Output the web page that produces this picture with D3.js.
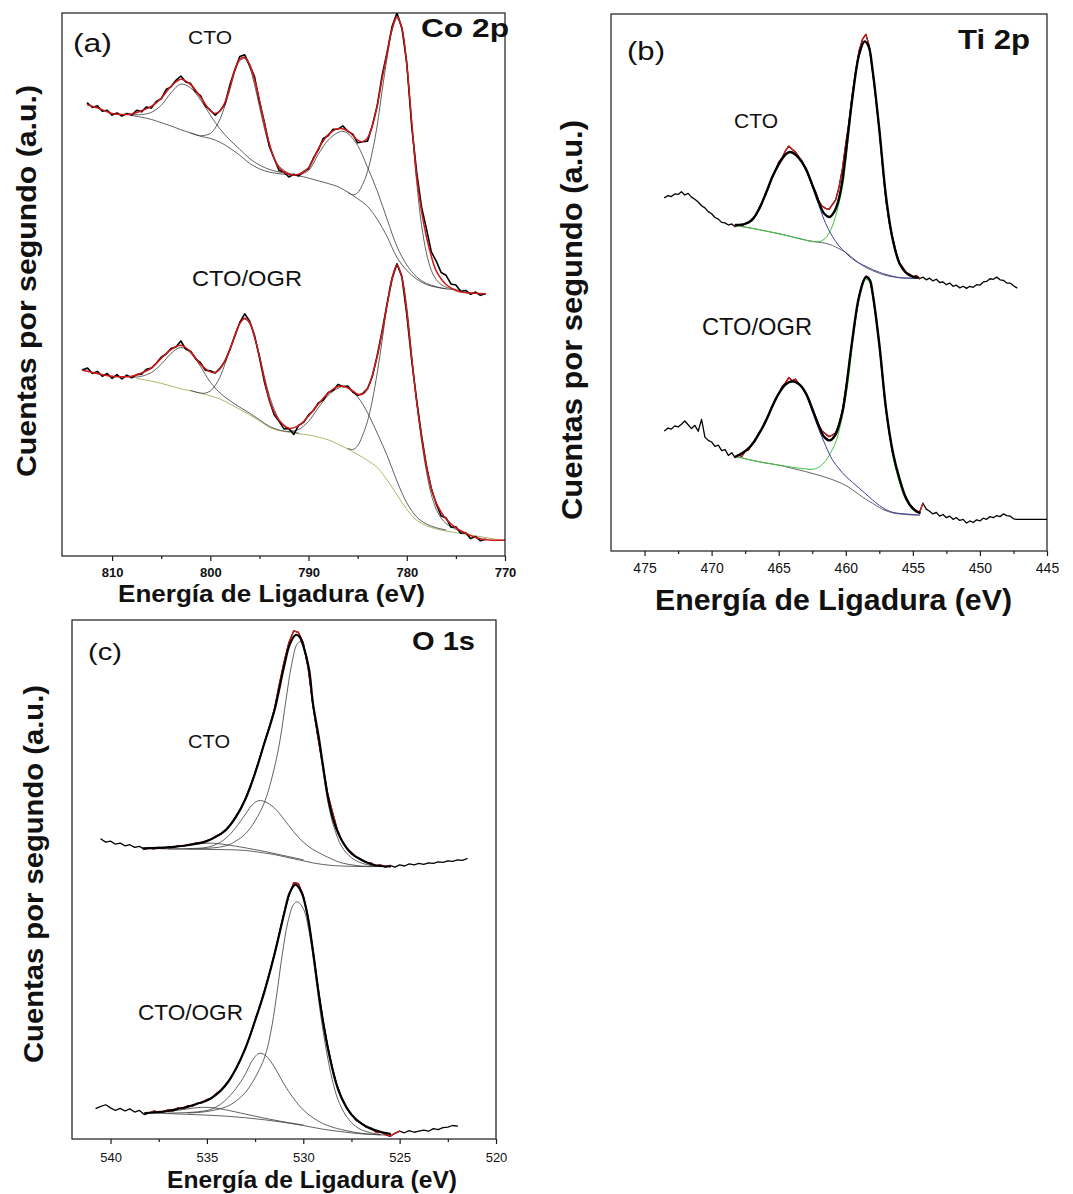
<!DOCTYPE html>
<html>
<head>
<meta charset="utf-8">
<script src="https://cdn.jsdelivr.net/npm/d3@7"></script>
<style>
  html, body { margin: 0; padding: 0; background: #fff; }
  svg { display: block; }
  text { font-family: "Liberation Sans", Arial, Helvetica, sans-serif; fill: #111; }
</style>
</head>
<body>
<svg id="fig" width="1073" height="1194"></svg>
<script>
// ---------------- Co 2p (panel a) ----------------
const co2pTicks = [810, 800, 790, 780, 770];
const co2pMinorTicks = [805, 795, 785, 775];

// measured spectra on a regular energy grid (start, step in eV)
const co2pCtoStart = 812.5, co2pCtoStep = 0.5;
const co2pCtoRaw = [
  83.4, 82.6, 82.9, 81.9,  82.1, 81.2, 81.6, 81.0,
  81.5, 81.2, 82.1, 81.8,  82.7, 82.5, 83.7, 84.2,
  85.9, 86.4, 87.6, 88.4,  87.3, 87.0, 85.5, 84.8,
  82.9, 82.1, 81.2, 82.0,  83.3, 86.8, 89.6, 92.0,
  92.3, 90.4, 88.3, 83.7,  79.9, 75.5, 73.2, 71.0,
  70.7, 69.8, 70.3, 70.0,  70.8, 71.3, 73.3, 74.8,
  76.9, 77.4, 78.6, 78.6,  79.2, 78.2, 77.7, 76.1,
  76.3, 76.4, 79.3, 83.0,  88.6, 92.8, 97.5, 100.0,
  97.3, 90.8, 79.2, 70.8,  64.3, 60.3, 56.0, 54.3,
  52.2, 51.7, 50.1, 49.9,  48.7, 48.9, 48.2, 48.6,
  48.0, 48.3
];
const co2pOgrStart = 813.0, co2pOgrStep = 0.5;
const co2pOgrRaw = [
  34.3, 34.6, 33.6, 34.0,  33.1, 33.6, 32.7, 33.4,
  32.6, 33.3, 32.8, 33.4,  33.5, 34.4, 34.6, 35.5,
  36.6, 37.2, 38.2, 38.5,  39.6, 38.1, 37.7, 36.3,
  35.6, 34.2, 34.1, 33.7,  34.6, 35.9, 38.1, 40.5,
  43.0, 44.6, 43.3, 40.6,  36.6, 32.1, 28.7, 26.0,
  24.8, 23.4, 23.5, 22.4,  24.1, 24.6, 26.0, 26.8,
  28.2, 28.7, 30.1, 30.5,  31.6, 31.2, 31.3, 30.2,
  29.6, 29.9, 30.8, 33.1,  37.0, 41.5, 46.5, 51.0,
  53.8, 51.5, 44.5, 36.0,  28.8, 22.2, 16.6, 12.4,
  9.6, 7.4, 7.0, 5.3,      5.4, 4.2, 4.3, 3.2,
  3.6, 2.8, 3.1
];
// fitted envelopes, backgrounds and components: [energy, counts]
const co2pCtoFit = [[812.5,83.1],[812,82.8],[811,82.2],[810,81.5],[809,81.3],[808,81.4],[807,82.0],[806,82.8],[805,84.3],[804,86.5],[803,87.8],[802,86.8],[801,84.5],[800,82.0],[799.5,81.5],[799,82.0],[798.5,83.6],[798,86.3],[797.5,89.5],[797,91.5],[796.5,91.8],[796,90.5],[795.5,87.7],[795,84.0],[794.5,79.7],[794,76.0],[793.5,73.2],[793,71.5],[792,70.3],[791,70.3],[790,71.5],[789.5,73.1],[789,75.0],[788,77.6],[787,78.7],[786,78.3],[785,76.6],[784.5,76.3],[784,77.0],[783.5,79.3],[783,83.0],[782.5,88.0],[782,92.5],[781.5,97.0],[781,99.3],[780.5,97.2],[780,90.5],[779.5,80.0],[779,70.0],[778.5,63.5],[778,58.8],[777.5,55.2],[777,52.5],[776,50.0],[775,48.9],[774,48.5],[773,48.4],[772,48.3]];
const co2pCtoBg = [[808.2,81.2],[807,80.8],[806,80.4],[805,79.8],[804,79.2],[803,78.5],[802,77.9],[801,77.3],[800,76.9],[799,76.2],[798,75.1],[797,73.8],[796,72.3],[795,71.3],[794,70.7],[793,70.4],[792,70.2],[791,70.0],[790,69.6],[789,69.1],[788,68.6],[787,68.0],[786,67.0],[785,65.8],[784,64.4],[783,62.0],[782,58.8],[781,55.0],[780,52.6],[779,51.0],[778,50.0],[777,49.5],[776,49.2],[775,49.0],[774,48.9]];
const co2pCtoPeaks = [
  [[808,81.3],[807,81.3],[806,81.7],[805,83.0],[804,85.3],[803,86.9],[802,86.2],[801,84.0],[800,81.2],[799,78.6],[798,76.6],[797,74.9],[796,73.2],[795,72.0],[794,71.2],[793,70.7],[792,70.4]],
  [[802,77.9],[801,77.4],[800.5,77.5],[800,77.8],[799.5,78.8],[799,80.5],[798.5,83.0],[798,86.0],[797.5,89.2],[797,91.2],[796.5,91.6],[796,90.0],[795.5,86.8],[795,82.8],[794.5,78.8],[794,75.5],[793.5,73.2],[793,71.8],[792.5,71.0],[792,70.5],[791,70.1]],
  [[791.5,70.1],[791,70.2],[790,71.0],[789,74.0],[788,76.6],[787,78.0],[786.5,78.2],[786,77.8],[785,75.6],[784,71.6],[783,67.2],[782,62.0],[781,57.0],[780,53.6],[779,51.4],[778,50.2],[777,49.6],[776,49.2]],
  [[786,67.0],[785.5,66.5],[785,66.9],[784.5,68.4],[784,70.8],[783.5,74.5],[783,79.4],[782.5,85.8],[782,91.8],[781.5,96.8],[781,99.0],[780.5,97.0],[780,90.3],[779.5,79.5],[779,69.0],[778.5,61.0],[778,55.8],[777.5,52.6],[777,50.9],[776.5,50.0],[776,49.5],[775,49.1]]
];
const co2pOgrFit = [[813,34.2],[812,33.8],[811,33.4],[810,33.1],[809,33.0],[808,33.1],[807,33.7],[806,34.6],[805,36.4],[804,38.0],[803,38.8],[802,37.6],[801,35.3],[800,33.9],[799.5,33.8],[799,34.5],[798.5,36.0],[798,38.0],[797.5,40.6],[797,42.8],[796.5,43.8],[796,43.0],[795.5,40.3],[795,36.8],[794.5,32.6],[794,28.8],[793.5,26.5],[793,25.0],[792,23.5],[791,24.0],[790,25.8],[789,28.0],[788,30.0],[787,31.2],[786,31.0],[785,29.8],[784.5,29.8],[784,30.8],[783.5,33.3],[783,36.8],[782.5,41.3],[782,46.3],[781.5,51.0],[781,53.6],[780.5,51.3],[780,45.0],[779.5,36.5],[779,28.5],[778.5,22.0],[778,16.5],[777.5,12.5],[777,9.8],[776,6.8],[775,5.2],[774,4.2],[773,3.4],[772,3.0],[771,2.9],[770,2.9]];
const co2pOgrBg = [[807.5,32.7],[806,32.2],[805,31.8],[804,31.3],[803,30.8],[802,30.4],[801,30.0],[800,29.5],[799,28.9],[798,28.0],[797,27.0],[796,26.0],[795,24.9],[794,23.7],[793,23.1],[792,22.8],[791,22.5],[790,22.3],[789,21.9],[788,21.4],[787,20.6],[786,19.7],[785,18.7],[784,17.6],[783,16.3],[782,14.0],[781,11.3],[780,8.6],[779,6.6],[778,5.6],[777,5.0],[776,4.6],[775,4.3],[774,4.0],[773,3.7],[772,3.4],[771,3.1],[770,2.9]];
const co2pOgrPeaks = [
  [[808,32.9],[807,33.1],[806,33.8],[805,35.3],[804,37.3],[803,38.4],[802,37.4],[801,34.9],[800,32.0],[799,30.0],[798,28.6],[797,27.4],[796,26.3],[795,25.1],[794,23.9],[793,23.2],[792,22.9]],
  [[802,30.5],[801,30.0],[800.5,30.0],[800,30.4],[799.5,31.4],[799,33.0],[798.5,35.4],[798,38.0],[797.5,40.8],[797,42.8],[796.5,43.6],[796,42.8],[795.5,40.4],[795,36.9],[794.5,33.0],[794,29.6],[793.5,27.0],[793,25.1],[792.5,23.9],[792,23.2],[791,22.6]],
  [[792,22.9],[791,23.3],[790,24.8],[789,27.3],[788,29.6],[787,30.9],[786.5,31.2],[786,30.9],[785,29.3],[784,26.4],[783,22.6],[782,18.5],[781,13.8],[780,9.8],[779,7.2],[778,5.9],[777,5.2],[776,4.8]],
  [[786,19.8],[785.5,19.6],[785,20.3],[784.5,22.2],[784,24.8],[783.5,28.7],[783,33.8],[782.5,39.8],[782,46.3],[781.5,51.4],[781,53.4],[780.5,51.3],[780,45.8],[779.5,37.0],[779,28.4],[778.5,21.3],[778,15.6],[777.5,11.3],[777,8.6],[776.5,7.0],[776,6.0],[775,4.9],[774,4.2]]
];

// ---------------- Ti 2p (panel b) ----------------
const ti2pTicks = [475, 470, 465, 460, 455, 450, 445];
const ti2pMinorTicks = [472.5, 467.5, 462.5, 457.5, 452.5, 447.5];
const ti2pCtoStart = 473.5, ti2pCtoStep = 0.25;
const ti2pCtoRaw = [
  65.8, 66.2, 66.0, 66.5,  66.4, 66.9, 66.3, 66.6,
  65.9, 65.5, 65.0, 64.3,  63.9, 63.2, 62.8, 62.1,
  61.8, 61.2, 61.1, 60.7,  60.9, 60.4, 60.7, 60.5,
  61.0, 61.1, 61.8, 62.4,  63.7, 64.8, 66.5, 67.7,
  69.7, 70.8, 72.4, 73.2,  74.5, 75.4, 74.8, 74.3,
  73.4, 72.6, 71.1, 69.9,  68.1, 66.9, 65.1, 64.2,
  63.8, 63.6, 64.5, 65.4,  67.8, 71.2, 75.8, 80.0,
  85.3, 89.5, 93.2, 95.3,  96.2, 94.0, 89.3, 84.2,
  78.3, 71.5, 65.2, 61.0,  58.3, 55.6, 53.6, 52.8,
  51.8, 51.6, 51.0, 51.3,  50.7, 51.0, 50.5, 50.8,
  50.3, 50.6, 50.0, 50.1,  49.6, 49.9, 49.3, 49.5,
  49.0, 49.3, 48.9, 49.3,  49.1, 49.6, 49.5, 50.1,
  50.2, 50.7, 50.6, 51.0,  50.5, 50.4, 49.9, 49.9,
  49.4, 49.0
];
const ti2pOgrStart = 473.5, ti2pOgrStep = 0.25;
const ti2pOgrRaw = [
  22.4, 22.9, 22.7, 23.3,  23.1, 23.6, 24.2, 23.5,
  22.8, 23.4, 22.3, 24.5,  21.2, 20.6, 20.3, 19.5,
  19.7, 18.7, 18.9, 17.8,  18.3, 17.4, 17.9, 17.6,
  18.6, 18.8, 19.9, 20.5,  21.9, 22.7, 24.2, 25.3,
  26.9, 28.3, 29.2, 30.6,  31.3, 32.3, 31.7, 32.0,
  31.1, 30.6, 29.4, 28.3,  26.4, 25.0, 23.4, 22.3,
  21.8, 21.3, 21.6, 22.0,  23.6, 26.2, 30.1, 34.6,
  39.6, 43.8, 47.6, 50.0,  51.2, 50.8, 48.1, 43.6,
  38.4, 32.2, 26.3, 22.0,  18.2, 15.5, 13.1, 11.2,
  9.9, 8.6, 8.1, 7.3,      7.2, 8.9, 7.8, 7.4,
  6.9, 7.2, 6.5, 6.8,      6.2, 6.5, 5.9, 6.2,
  5.7, 5.9, 5.2, 5.6,      5.3, 5.8, 5.6, 6.1,
  5.9, 6.4, 6.2, 6.6,      6.4, 6.9, 6.6, 6.5,
  6.0, 5.9, 5.9, 5.9,      5.9, 5.9, 5.9, 5.9,
  5.9, 5.9, 5.9
];
const ti2pCtoFitRange = [468.25, 454.5];
const ti2pOgrFitRange = [468.25, 454.25];
const ti2pCtoFit = [[468.2,60.7],[467.5,60.9],[467,61.6],[466.5,63.5],[466,66.3],[465.5,69.5],[465,72.0],[464.5,73.8],[464.2,74.3],[463.9,74.1],[463.5,73.2],[463,71.3],[462.5,68.2],[462,64.9],[461.6,62.8],[461.2,62.2],[460.9,63.0],[460.6,64.8],[460.3,68.2],[460,74.0],[459.5,84.5],[459,92.5],[458.6,94.9],[458.3,94.0],[458,89.5],[457.5,78.5],[457,66.0],[456.5,58.0],[456,53.6],[455.5,51.8],[455,51.1],[454.6,50.9]];
const ti2pCtoBg = [[468.2,60.6],[467,60.1],[466,59.6],[465,59.1],[464,58.5],[463,57.9],[462,57.5],[461.5,57.3],[461,56.9],[460.5,56.3],[460,55.6],[459.5,54.6],[459,53.6],[458.5,52.8],[458,52.2],[457.5,51.7],[457,51.3],[456,50.9],[455,50.8],[454.6,50.8]];
const ti2pCto3half = [[468.2,60.6],[467,60.1],[466,59.6],[465,59.1],[464,58.5],[463,57.9],[462.5,57.6],[462,57.6],[461.7,57.9],[461.4,58.6],[461.1,59.9],[460.8,62.0],[460.5,64.8],[460.2,68.5],[460,72.5],[459.5,84.0],[459,92.3],[458.6,94.7],[458.3,93.8],[458,89.3],[457.5,78.3],[457,65.8],[456.5,57.8],[456,53.4],[455.5,51.6],[455,51.0],[454.6,50.8]];
const ti2pCto1half = [[468.2,60.7],[467.5,60.9],[467,61.5],[466.5,63.4],[466,66.2],[465.5,69.4],[465,71.9],[464.5,73.7],[464.2,74.2],[463.9,74.0],[463.5,73.1],[463,71.1],[462.5,67.9],[462,64.3],[461.5,61.0],[461,58.6],[460.5,56.8],[460,55.5],[459.5,54.4],[459,53.6],[458.5,53.0],[458,52.4],[457.5,51.9],[457,51.5],[456,50.9],[455,50.8],[454.6,50.8]];
const ti2pOgrFit = [[468.2,17.6],[467.5,18.6],[467,19.8],[466.5,21.7],[466,24.0],[465.5,26.8],[465,29.3],[464.5,31.0],[464,31.6],[463.5,31.1],[463,29.5],[462.5,26.5],[462,23.2],[461.6,21.2],[461.2,20.6],[460.8,21.5],[460.5,23.5],[460.2,26.5],[460,29.8],[459.5,39.5],[459,47.5],[458.5,51.0],[458.2,50.4],[458,48.0],[457.5,38.5],[457,26.5],[456.5,18.5],[456,13.5],[455.5,9.8],[455,7.9],[454.5,7.1]];
const ti2pOgrBg = [[468.2,17.6],[467,16.9],[466,16.4],[465,16.0],[464,15.4],[463,14.8],[462,14.1],[461,13.3],[460.5,12.8],[460,12.2],[459.5,11.4],[459,10.5],[458.5,9.6],[458,8.9],[457.5,8.1],[457,7.5],[456.5,7.1],[456,6.9],[455,6.7],[454.5,6.7]];
const ti2pOgr3half = [[468.2,17.6],[467,16.9],[466,16.4],[465,16.0],[464,15.6],[463,15.3],[462.5,15.2],[462,15.6],[461.5,16.8],[461,18.9],[460.7,20.6],[460.4,23.4],[460.1,27.2],[459.8,32.0],[459.5,38.5],[459,46.8],[458.5,50.6],[458.2,50.0],[458,47.6],[457.5,38.0],[457,25.8],[456.5,17.8],[456,12.8],[455.5,9.4],[455,7.7],[454.5,7.0]];
const ti2pOgr1half = [[468.2,17.6],[467.5,18.6],[467,19.8],[466.5,21.6],[466,23.9],[465.5,26.7],[465,29.2],[464.5,30.9],[464,31.5],[463.5,31.0],[463,29.2],[462.5,26.0],[462,22.6],[461.5,19.6],[461,17.0],[460.5,15.3],[460,13.9],[459.5,12.8],[459,11.7],[458.5,10.6],[458,9.5],[457.5,8.5],[457,7.7],[456.5,7.2],[456,7.0],[455,6.8],[454.5,6.7]];

// ---------------- O 1s (panel c) ----------------
const o1sTicks = [540, 535, 530, 525, 520];
const o1sMinorTicks = [537.5, 532.5, 527.5, 522.5];
const o1sCtoStart = 540.5, o1sCtoStep = 0.25;
const o1sCtoRaw = [
  57.8, 57.2, 57.4, 56.8,  57.0, 56.5, 56.7, 56.2,
  56.4, 55.8, 56.1, 55.9,  56.2, 56.0, 56.3, 56.2,
  56.5, 56.4, 56.7, 56.8,  57.1, 57.1, 57.5, 57.8,
  58.4, 58.9, 59.7, 60.7,  62.1, 63.6, 65.6, 67.9,
  70.6, 73.5, 76.6, 79.5,  82.8, 87.5, 91.9, 95.6,
  97.9, 97.6, 95.6, 90.8,  83.6, 77.6, 72.3, 66.8,
  63.2, 59.8, 57.5, 56.0,  55.2, 54.3, 53.9, 53.3,
  53.2, 52.6, 52.8, 52.4,  52.7, 52.4, 52.8, 52.6,
  53.0, 52.8, 53.1, 52.9,  53.2, 53.1, 53.4, 53.3,
  53.6, 53.5, 53.8, 53.7,  54.0
];
const o1sOgrStart = 540.75, o1sOgrStep = 0.25;
const o1sOgrRaw = [
  5.9, 6.3, 6.6, 6.0,      5.5, 5.9, 5.4, 5.8,
  5.2, 5.5, 4.7, 5.0,      5.4, 5.1, 5.3, 5.6,
  5.4, 6.0, 5.9, 6.4,      6.3, 6.9, 7.0, 7.6,
  7.9, 8.8, 9.4, 10.6,     11.8, 13.5, 15.3, 17.6,
  20.0, 22.9, 25.6, 28.7,  32.0, 35.6, 39.5, 43.5,
  46.8, 49.4, 49.2, 46.9,  42.6, 36.4, 29.5, 23.3,
  18.2, 13.8, 10.3, 7.9,   6.0, 4.8, 3.6, 3.1,
  2.3, 2.1, 1.4, 1.3,      0.9, 0.5, 1.1, 1.5,
  1.2, 1.6, 1.3, 1.5,      1.7, 1.5, 2.0, 1.8,
  2.2, 2.3, 2.6, 2.5
];
const o1sCtoFitRange = [538.25, 525.5];
const o1sOgrFitRange = [538.0, 525.0];
const o1sCtoFit = [[538.3,56.0],[537,56.2],[536,56.6],[535,57.4],[534.5,58.3],[534,59.6],[533.5,62.0],[533,65.5],[532.5,70.5],[532,76.5],[531.5,82.5],[531,91.0],[530.7,95.3],[530.4,97.1],[530.2,96.8],[530,95.0],[529.7,90.5],[529.5,84.0],[529.2,77.5],[529,72.5],[528.7,65.5],[528.4,61.0],[528,57.5],[527.5,55.0],[527,53.8],[526.5,53.0],[526,52.6],[525.5,52.5]];
const o1sCtoBg = [[538.3,56.0],[537,55.9],[536,55.85],[535,55.8],[534,55.75],[533,55.6],[532.2,55.2],[531.5,54.8],[531,54.4],[530.5,54.0],[530,53.6],[529.5,53.2],[529,52.9],[528.5,52.7],[528,52.6],[527,52.5],[526,52.5],[525.5,52.5]];
const o1sCtoPeaks = [
  [[538.3,56.0],[537,56.2],[536,56.6],[535.3,56.9],[534.7,57.0],[534,56.7],[533,56.1],[532,55.4],[531,54.6],[530,53.8]],
  [[537,55.9],[536,55.95],[535,56.2],[534.5,56.8],[534,58.0],[533.5,60.0],[533,62.6],[532.6,64.6],[532.3,65.2],[532,65.0],[531.5,63.8],[531,61.6],[530.5,59.2],[530,57.2],[529.5,55.8],[529,54.8],[528.5,53.9],[528,53.2],[527,52.6],[526,52.5]],
  [[536,55.9],[535,56.0],[534,56.5],[533.5,57.4],[533,58.8],[532.5,61.3],[532,65.0],[531.5,71.5],[531.2,77.0],[530.9,84.5],[530.6,91.5],[530.3,95.5],[530.1,95.8],[529.9,94.0],[529.7,90.0],[529.5,83.5],[529.2,76.5],[529,71.5],[528.7,64.5],[528.4,60.0],[528,56.3],[527.5,54.2],[527,53.2],[526.5,52.7],[526,52.5]]
];
const o1sOgrFit = [[538.2,5.0],[537.5,5.2],[537,5.4],[536.5,5.8],[536,6.2],[535.5,6.8],[535,7.4],[534.5,8.6],[534,10.5],[533.5,13.5],[533,17.5],[532.5,22.8],[532,28.6],[531.5,35.5],[531,43.3],[530.7,47.5],[530.4,49.0],[530.1,47.6],[529.8,43.5],[529.5,36.3],[529.2,28.0],[528.9,21.0],[528.6,15.3],[528.3,10.8],[528,7.8],[527.5,4.7],[527,3.0],[526.5,2.0],[526,1.4],[525.5,1.0]];
const o1sOgrBg = [[538.2,5.0],[537,4.9],[536,4.75],[535,4.6],[534,4.4],[533,4.1],[532,3.7],[531,3.2],[530,2.6],[529,1.9],[528,1.4],[527,1.0],[526,0.8],[525.5,0.7]];
const o1sOgrPeaks = [
  [[538.2,5.0],[537,5.3],[536,5.8],[535.3,6.1],[534.6,6.0],[534,5.6],[533,4.8],[532,4.0],[531,3.3],[530,2.7]],
  [[537,5.0],[536,5.1],[535,5.5],[534.5,6.2],[534,7.6],[533.5,9.7],[533,12.5],[532.7,14.8],[532.3,16.5],[532,16.2],[531.7,15.0],[531.3,12.6],[531,10.6],[530.5,7.8],[530,5.6],[529.5,4.1],[529,3.0],[528.5,2.3],[528,1.8],[527,1.1],[526,0.8]],
  [[536,5.0],[535,5.3],[534,6.2],[533.5,7.3],[533,9.0],[532.5,11.8],[532,15.8],[531.7,20.3],[531.4,27.2],[531.1,35.3],[530.8,41.8],[530.5,45.2],[530.3,45.7],[530,44.4],[529.7,40.0],[529.4,32.5],[529.1,24.0],[528.8,17.0],[528.5,11.5],[528.2,7.6],[527.8,4.6],[527.4,2.8],[527,1.8],[526.5,1.2],[526,0.9]]
];

// ------------------------------------------------------------
const svg = d3.select("#fig");
const FONT = '"Liberation Sans", Arial, Helvetica, sans-serif';

function gridSeries(start, step, values) {
  return values.map((v, i) => [start - i * step, v]);
}
function within(series, range) {
  return series.filter(d => d[0] <= range[0] + 1e-9 && d[0] >= range[1] - 1e-9);
}

function addText(g, o) {
  const t = g.append("text")
    .attr("x", o.x).attr("y", o.y)
    .attr("font-size", o.size)
    .attr("font-weight", o.bold ? "bold" : "normal")
    .attr("text-anchor", o.anchor || "start")
    .text(o.text);
  if (o.len) t.attr("textLength", o.len).attr("lengthAdjust", "spacingAndGlyphs");
  if (o.rotate) t.attr("transform", `rotate(-90, ${o.x}, ${o.y})`);
  return t;
}

function drawPanel(p, idx) {
  const x = d3.scaleLinear().domain(p.domain).range([p.left, p.right]);
  const y = d3.scaleLinear().domain([0, 100]).range([p.bottom, p.top]);
  const g = svg.append("g");

  const clipId = "clip" + idx;
  svg.append("clipPath").attr("id", clipId)
    .append("rect").attr("x", p.left).attr("y", p.top)
    .attr("width", p.right - p.left).attr("height", p.bottom - p.top);

  const plot = g.append("g").attr("clip-path", `url(#${clipId})`);
  const rough = d3.line().x(d => x(d[0])).y(d => y(d[1]));
  const smooth = d3.line().x(d => x(d[0])).y(d => y(d[1])).curve(d3.curveCatmullRom.alpha(0.5));

  p.layers.forEach(L => {
    plot.append("path")
      .datum(L.data)
      .attr("d", L.smooth ? smooth : rough)
      .attr("fill", "none")
      .attr("stroke", L.color)
      .attr("stroke-width", L.width)
      .attr("stroke-linejoin", "round")
      .attr("stroke-linecap", "round");
  });

  // frame
  g.append("rect")
    .attr("x", p.left).attr("y", p.top)
    .attr("width", p.right - p.left).attr("height", p.bottom - p.top)
    .attr("fill", "none").attr("stroke", "#1a1a1a").attr("stroke-width", 1.2);

  // bottom axis
  const axis = d3.axisBottom(x).tickValues(p.ticks).tickSize(5).tickPadding(3)
    .tickFormat(d3.format("d"));
  const ax = g.append("g").attr("transform", `translate(0,${p.bottom})`).call(axis);
  ax.select(".domain").remove();
  ax.selectAll(".tick line").attr("stroke", "#1a1a1a").attr("stroke-width", 1.2);
  ax.selectAll(".tick text")
    .attr("font-family", FONT)
    .attr("font-size", p.tickSize)
    .attr("font-weight", p.tickBold ? "bold" : "normal")
    .attr("fill", "#111")
    .attr("dy", null)
    .attr("y", p.tickY - p.bottom);
  const minor = d3.axisBottom(x).tickValues(p.minor).tickSize(3).tickFormat("");
  const mx = g.append("g").attr("transform", `translate(0,${p.bottom})`).call(minor);
  mx.select(".domain").remove();
  mx.selectAll(".tick line").attr("stroke", "#1a1a1a").attr("stroke-width", 1.2);

  p.texts.forEach(o => addText(g, o));
}

const gray = "#3a3a3a";
const red = "#d01818";

const panels = [
  {
    left: 62, right: 505, top: 13, bottom: 556,
    domain: [815.1, 770], ticks: co2pTicks, minor: co2pMinorTicks,
    tickSize: 13, tickBold: true, tickY: 577,
    layers: [
      { data: co2pCtoBg, smooth: true, color: gray, width: 0.8 },
      ...co2pCtoPeaks.map(d => ({ data: d, smooth: true, color: gray, width: 0.8 })),
      { data: gridSeries(co2pCtoStart, co2pCtoStep, co2pCtoRaw), color: "#000", width: 1.6 },
      { data: co2pCtoFit, smooth: true, color: red, width: 1.5 },
      { data: co2pOgrBg, smooth: true, color: "#b4b46a", width: 1.0 },
      ...co2pOgrPeaks.map(d => ({ data: d, smooth: true, color: gray, width: 0.8 })),
      { data: gridSeries(co2pOgrStart, co2pOgrStep, co2pOgrRaw), color: "#000", width: 1.6 },
      { data: co2pOgrFit, smooth: true, color: red, width: 1.5 }
    ],
    texts: [
      { text: "(a)", x: 73, y: 52, size: 26, len: 39 },
      { text: "CTO", x: 188, y: 44, size: 18, len: 44 },
      { text: "Co 2p", x: 421, y: 37, size: 26, bold: true, len: 88 },
      { text: "CTO/OGR", x: 192, y: 286, size: 22, len: 110 },
      { text: "Energía de Ligadura (eV)", x: 118, y: 602, size: 23, bold: true, len: 307 },
      { text: "Cuentas por segundo (a.u.)", x: 36, y: 477, size: 27, bold: true, len: 392, rotate: true }
    ]
  },
  {
    left: 611, right: 1047, top: 14, bottom: 551,
    domain: [477.5, 445], ticks: ti2pTicks, minor: ti2pMinorTicks,
    tickSize: 14, tickBold: false, tickY: 573,
    layers: [
      { data: gridSeries(ti2pCtoStart, ti2pCtoStep, ti2pCtoRaw), color: "#000", width: 1.3 },
      { data: within(gridSeries(ti2pCtoStart, ti2pCtoStep, ti2pCtoRaw), ti2pCtoFitRange), color: red, width: 1.3 },
      { data: ti2pCtoBg, smooth: true, color: "#555", width: 0.9 },
      { data: ti2pCto3half, smooth: true, color: "#3cc43c", width: 1.0 },
      { data: ti2pCto1half, smooth: true, color: "#3c3c9c", width: 1.0 },
      { data: ti2pCtoFit, smooth: true, color: "#000", width: 2.4 },
      { data: gridSeries(ti2pOgrStart, ti2pOgrStep, ti2pOgrRaw), color: "#000", width: 1.3 },
      { data: within(gridSeries(ti2pOgrStart, ti2pOgrStep, ti2pOgrRaw), ti2pOgrFitRange), color: red, width: 1.3 },
      { data: ti2pOgrBg, smooth: true, color: "#555", width: 0.9 },
      { data: ti2pOgr3half, smooth: true, color: "#3cc43c", width: 1.0 },
      { data: ti2pOgr1half, smooth: true, color: "#3c3c9c", width: 1.0 },
      { data: ti2pOgrFit, smooth: true, color: "#000", width: 2.4 }
    ],
    texts: [
      { text: "(b)", x: 627, y: 60, size: 26, len: 38 },
      { text: "Ti 2p", x: 958, y: 49, size: 28, bold: true, len: 72 },
      { text: "CTO", x: 734, y: 128, size: 20, len: 44 },
      { text: "CTO/OGR", x: 702, y: 335, size: 24, len: 110 },
      { text: "Energía de Ligadura (eV)", x: 655, y: 610, size: 30, bold: true, len: 357 },
      { text: "Cuentas por segundo (a.u.)", x: 582, y: 520, size: 29, bold: true, len: 400, rotate: true }
    ]
  },
  {
    left: 72, right: 496, top: 620, bottom: 1139,
    domain: [542, 520], ticks: o1sTicks, minor: o1sMinorTicks,
    tickSize: 13, tickBold: false, tickY: 1162,
    layers: [
      { data: gridSeries(o1sCtoStart, o1sCtoStep, o1sCtoRaw), color: "#000", width: 1.3 },
      { data: o1sCtoBg, smooth: true, color: gray, width: 0.8 },
      ...o1sCtoPeaks.map(d => ({ data: d, smooth: true, color: gray, width: 0.8 })),
      { data: within(gridSeries(o1sCtoStart, o1sCtoStep, o1sCtoRaw), o1sCtoFitRange), color: red, width: 1.3 },
      { data: o1sCtoFit, smooth: true, color: "#000", width: 2.2 },
      { data: gridSeries(o1sOgrStart, o1sOgrStep, o1sOgrRaw), color: "#000", width: 1.3 },
      { data: o1sOgrBg, smooth: true, color: gray, width: 0.8 },
      ...o1sOgrPeaks.map(d => ({ data: d, smooth: true, color: gray, width: 0.8 })),
      { data: within(gridSeries(o1sOgrStart, o1sOgrStep, o1sOgrRaw), o1sOgrFitRange), color: red, width: 1.3 },
      { data: o1sOgrFit, smooth: true, color: "#000", width: 2.2 }
    ],
    texts: [
      { text: "(c)", x: 88, y: 660, size: 24, len: 34 },
      { text: "O 1s", x: 412, y: 650, size: 26, bold: true, len: 63 },
      { text: "CTO", x: 188, y: 748, size: 18, len: 42 },
      { text: "CTO/OGR", x: 138, y: 1020, size: 22, len: 105 },
      { text: "Energía de Ligadura (eV)", x: 167, y: 1188, size: 24, bold: true, len: 290 },
      { text: "Cuentas por segundo (a.u.)", x: 43, y: 1063, size: 27, bold: true, len: 378, rotate: true }
    ]
  }
];

panels.forEach(drawPanel);
</script>
</body>
</html>
